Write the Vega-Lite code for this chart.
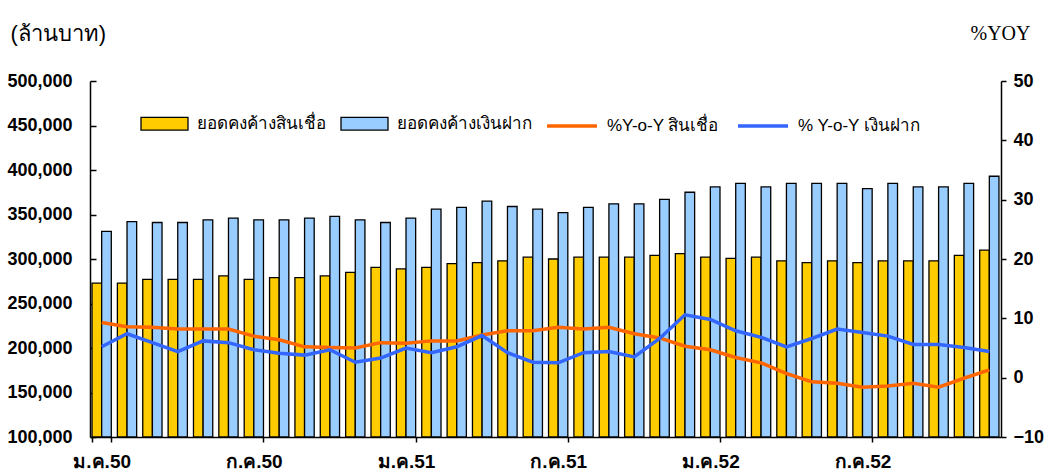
{
  "$schema": "https://vega.github.io/schema/vega-lite/v6.json",
  "width": 911,
  "height": 356,
  "autosize": {"type": "none"},
  "padding": {"left": 90, "top": 81, "right": 44, "bottom": 35},
  "background": "white",
  "config": {"view": {"stroke": null}, "font": "Liberation Sans"},
  "data": {"values": [
    {"month": "2007-01", "loan": 273000, "deposit": 331000, "loan_yoy": 9.3, "deposit_yoy": 5.2},
    {"month": "2007-02", "loan": 273000, "deposit": 342000, "loan_yoy": 8.6, "deposit_yoy": 7.4},
    {"month": "2007-03", "loan": 277000, "deposit": 341000, "loan_yoy": 8.5, "deposit_yoy": 5.9},
    {"month": "2007-04", "loan": 277000, "deposit": 341000, "loan_yoy": 8.2, "deposit_yoy": 4.4},
    {"month": "2007-05", "loan": 277000, "deposit": 344000, "loan_yoy": 8.2, "deposit_yoy": 6.2},
    {"month": "2007-06", "loan": 281000, "deposit": 346000, "loan_yoy": 8.2, "deposit_yoy": 5.9},
    {"month": "2007-07", "loan": 277000, "deposit": 344000, "loan_yoy": 7.0, "deposit_yoy": 4.7},
    {"month": "2007-08", "loan": 279000, "deposit": 344000, "loan_yoy": 6.4, "deposit_yoy": 4.1},
    {"month": "2007-09", "loan": 279000, "deposit": 346000, "loan_yoy": 5.2, "deposit_yoy": 3.8},
    {"month": "2007-10", "loan": 281000, "deposit": 348000, "loan_yoy": 5.1, "deposit_yoy": 4.7},
    {"month": "2007-11", "loan": 285000, "deposit": 344000, "loan_yoy": 5.0, "deposit_yoy": 2.6},
    {"month": "2007-12", "loan": 290500, "deposit": 341000, "loan_yoy": 5.9, "deposit_yoy": 3.3},
    {"month": "2008-01", "loan": 289000, "deposit": 346000, "loan_yoy": 5.8, "deposit_yoy": 5.0},
    {"month": "2008-02", "loan": 290500, "deposit": 356000, "loan_yoy": 6.2, "deposit_yoy": 4.2},
    {"month": "2008-03", "loan": 294700, "deposit": 358000, "loan_yoy": 6.2, "deposit_yoy": 5.2},
    {"month": "2008-04", "loan": 296000, "deposit": 365000, "loan_yoy": 7.2, "deposit_yoy": 7.1},
    {"month": "2008-05", "loan": 298000, "deposit": 359000, "loan_yoy": 7.9, "deposit_yoy": 4.2},
    {"month": "2008-06", "loan": 302000, "deposit": 356000, "loan_yoy": 7.9, "deposit_yoy": 2.6},
    {"month": "2008-07", "loan": 300000, "deposit": 352000, "loan_yoy": 8.5, "deposit_yoy": 2.5},
    {"month": "2008-08", "loan": 302000, "deposit": 358000, "loan_yoy": 8.2, "deposit_yoy": 4.2},
    {"month": "2008-09", "loan": 302000, "deposit": 362000, "loan_yoy": 8.5, "deposit_yoy": 4.4},
    {"month": "2008-10", "loan": 302000, "deposit": 362000, "loan_yoy": 7.4, "deposit_yoy": 3.5},
    {"month": "2008-11", "loan": 304000, "deposit": 367000, "loan_yoy": 6.7, "deposit_yoy": 6.6},
    {"month": "2008-12", "loan": 306000, "deposit": 375000, "loan_yoy": 5.3, "deposit_yoy": 10.6},
    {"month": "2009-01", "loan": 302000, "deposit": 381000, "loan_yoy": 4.7, "deposit_yoy": 9.8},
    {"month": "2009-02", "loan": 300600, "deposit": 385000, "loan_yoy": 3.4, "deposit_yoy": 7.9},
    {"month": "2009-03", "loan": 302000, "deposit": 381000, "loan_yoy": 2.5, "deposit_yoy": 6.8},
    {"month": "2009-04", "loan": 298000, "deposit": 385000, "loan_yoy": 0.7, "deposit_yoy": 5.2},
    {"month": "2009-05", "loan": 296000, "deposit": 385000, "loan_yoy": -0.7, "deposit_yoy": 6.6},
    {"month": "2009-06", "loan": 298000, "deposit": 385000, "loan_yoy": -0.95, "deposit_yoy": 8.2},
    {"month": "2009-07", "loan": 296000, "deposit": 379000, "loan_yoy": -1.6, "deposit_yoy": 7.6},
    {"month": "2009-08", "loan": 298000, "deposit": 385000, "loan_yoy": -1.4, "deposit_yoy": 7.0},
    {"month": "2009-09", "loan": 298000, "deposit": 381000, "loan_yoy": -0.95, "deposit_yoy": 5.6},
    {"month": "2009-10", "loan": 298000, "deposit": 381000, "loan_yoy": -1.6, "deposit_yoy": 5.6},
    {"month": "2009-11", "loan": 304000, "deposit": 385000, "loan_yoy": -0.1, "deposit_yoy": 5.1},
    {"month": "2009-12", "loan": 310000, "deposit": 393000, "loan_yoy": 1.3, "deposit_yoy": 4.4}
  ]},
  "encoding": {
    "x": {
      "field": "month", "type": "ordinal",
      "scale": {"paddingInner": 0.24, "paddingOuter": 0.08},
      "axis": {
        "title": null,
        "values": ["2007-01", "2007-07", "2008-01", "2008-07", "2009-01", "2009-07"],
        "labelExpr": "datum.value == '2007-01' ? 'ม.ค.50' : datum.value == '2007-07' ? 'ก.ค.50' : datum.value == '2008-01' ? 'ม.ค.51' : datum.value == '2008-07' ? 'ก.ค.51' : datum.value == '2009-01' ? 'ม.ค.52' : datum.value == '2009-07' ? 'ก.ค.52' : ''",
        "tickBand": "extent",
        "labelAngle": 0,
        "labelFontSize": 19,
        "labelFontWeight": "bold",
        "labelColor": "black",
        "labelPadding": 10,
        "domainColor": "black",
        "domainWidth": 1.5,
        "tickColor": "black",
        "tickWidth": 1.5,
        "tickSize": 5
      }
    }
  },
  "layer": [
    {
      "transform": [{"fold": ["loan", "deposit"], "as": ["bar_series", "bar_value"]}],
      "mark": {"type": "bar", "stroke": "black", "strokeWidth": 1.3},
      "encoding": {
        "xOffset": {"field": "bar_series", "type": "nominal", "scale": {"domain": ["loan", "deposit"]}},
        "y": {
          "field": "bar_value", "type": "quantitative",
          "scale": {"domain": [100000, 500000], "zero": false, "nice": false},
          "axis": {
            "title": "(ล้านบาท)",
            "titleAngle": 0, "titleX": -80, "titleY": -48,
            "titleAlign": "left", "titleBaseline": "middle",
            "titleFontWeight": "normal", "titleFontSize": 22, "titleColor": "black",
            "values": [100000, 150000, 200000, 250000, 300000, 350000, 400000, 450000, 500000],
            "format": ",d",
            "grid": false,
            "tickSize": -6,
            "tickColor": "black", "tickWidth": 1.5,
            "domainColor": "black", "domainWidth": 1.5,
            "labelFontSize": 18, "labelFontWeight": "bold", "labelColor": "black",
            "labelPadding": 24
          }
        },
        "y2": {"datum": 100000},
        "fill": {
          "field": "bar_series", "type": "nominal",
          "scale": {"domain": ["loan", "deposit"], "range": ["#FFCC00", "#99CCFF"]},
          "legend": {
            "title": null, "orient": "none", "legendX": 50, "legendY": 18,
            "direction": "horizontal",
            "symbolType": "M-1,-0.27H1V0.27H-1Z", "symbolSize": 2209,
            "symbolStrokeColor": "black", "symbolStrokeWidth": 1.3, "symbolOpacity": 1,
            "labelFontSize": 17, "labelColor": "black", "labelLimit": 300,
            "labelOffset": 8, "columnPadding": 12,
            "labelExpr": "datum.value == 'loan' ? 'ยอดคงค้างสินเชื่อ' : 'ยอดคงค้างเงินฝาก'"
          }
        }
      }
    },
    {
      "transform": [{"fold": ["loan_yoy", "deposit_yoy"], "as": ["line_series", "line_value"]}],
      "mark": {"type": "line", "strokeWidth": 3.5},
      "encoding": {
        "y": {
          "field": "line_value", "type": "quantitative",
          "scale": {"domain": [-10, 50], "zero": false, "nice": false},
          "axis": {
            "orient": "right",
            "title": "%YOY",
            "titleAngle": 0, "titleX": 29, "titleY": -48,
            "titleAlign": "right", "titleBaseline": "middle",
            "titleFont": "Liberation Serif",
            "titleFontWeight": "normal", "titleFontSize": 20, "titleColor": "black",
            "values": [-10, 0, 10, 20, 30, 40, 50],
            "grid": false,
            "tickSize": 5,
            "tickColor": "black", "tickWidth": 1.5,
            "domainColor": "black", "domainWidth": 1.5,
            "labelFontSize": 18, "labelFontWeight": "bold", "labelColor": "black",
            "labelPadding": 7
          }
        },
        "stroke": {
          "field": "line_series", "type": "nominal",
          "scale": {"domain": ["loan_yoy", "deposit_yoy"], "range": ["#FF6600", "#3366FF"]},
          "legend": {
            "title": null, "orient": "none", "legendX": 455, "legendY": 18,
            "direction": "horizontal",
            "symbolType": "stroke", "symbolSize": 2500, "symbolStrokeWidth": 3.5,
            "labelFontSize": 17, "labelColor": "black", "labelLimit": 300,
            "labelOffset": 8, "columnPadding": 12,
            "labelExpr": "datum.value == 'loan_yoy' ? '%Y-o-Y สินเชื่อ' : '% Y-o-Y เงินฝาก'"
          }
        }
      }
    }
  ],
  "resolve": {"scale": {"y": "independent"}}
}
